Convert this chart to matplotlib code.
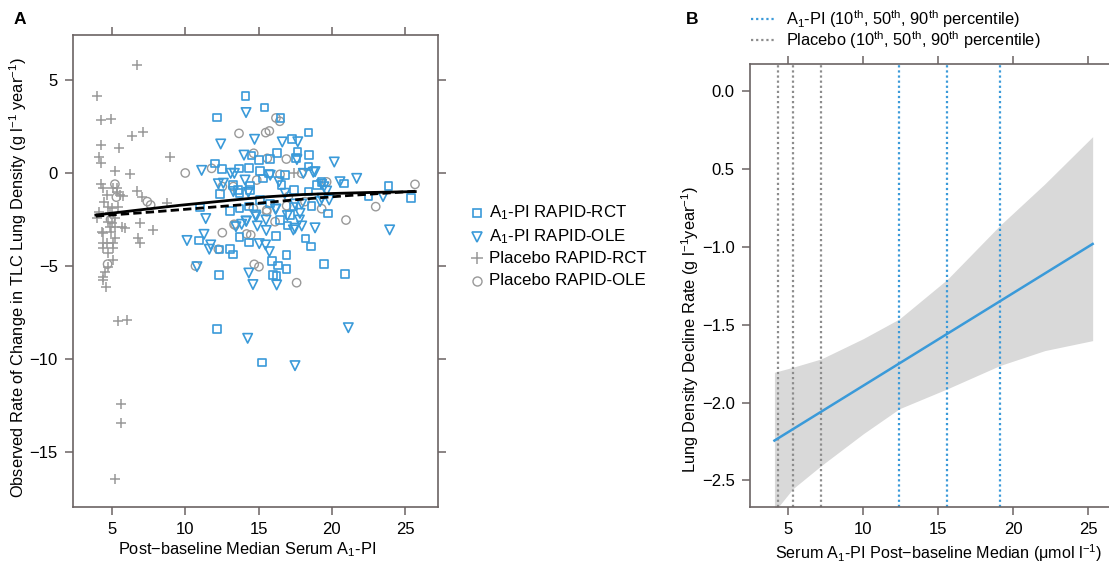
import matplotlib
matplotlib.use("Agg")
import matplotlib.pyplot as plt
from matplotlib.lines import Line2D
import numpy as np

plt.rcParams['font.family'] = ['Liberation Sans', 'DejaVu Sans']
plt.rcParams['mathtext.fontset'] = 'custom'
plt.rcParams['mathtext.rm'] = 'Liberation Sans'
plt.rcParams['mathtext.it'] = 'Liberation Sans:italic'
plt.rcParams['mathtext.bf'] = 'Liberation Sans:bold'

# ---------------- Panel A data ----------------
rct_a1pi_x = [14.10, 15.40, 12.17, 16.50, 18.40, 17.29, 17.65, 18.43, 16.25, 14.52, 15.02, 15.80, 12.02, 12.49,
              13.67, 14.37, 15.10, 15.70, 18.40, 17.56, 16.81, 19.31, 20.85, 23.86, 25.40, 22.50, 19.75, 18.63,
              17.42, 18.40, 13.62, 12.37, 11.01, 13.07, 13.69, 14.36, 16.47, 16.97, 16.18, 13.69, 14.37, 10.92,
              13.05, 13.28, 12.33, 16.91, 18.20, 18.58, 15.93, 16.35, 16.92, 19.47, 20.92, 12.32, 15.97, 16.22,
              13.28, 13.69, 14.42, 15.29, 16.58, 19.01, 12.15, 15.22, 14.42, 17.38, 15.10, 15.78, 17.15]
rct_a1pi_y = [4.14, 3.53, 2.99, 2.97, 2.17, 1.82, 1.13, 0.97, 1.06, 0.95, 0.70, 0.75, 0.52, 0.22,
              0.25, 0.26, 0.12, -0.02, 0.34, 0.82, -0.11, -0.50, -0.57, -0.70, -1.36, -1.27, -2.18, -1.79,
              -0.92, -1.00, -0.91, -1.12, -1.85, -2.06, -1.90, -1.81, -2.53, -2.83, -3.38, -3.44, -3.73, -3.63,
              -4.10, -4.39, -4.12, -4.41, -3.53, -3.96, -4.72, -4.98, -5.17, -4.90, -5.44, -5.48, -5.48, -5.55,
              -0.65, -1.09, -0.68, -0.29, -0.65, -0.65, -8.39, -10.20, -0.91, -1.81, -1.45, -1.63, -2.26]

ole_a1pi_x = [14.15, 12.42, 14.73, 16.62, 17.68, 20.17, 21.70, 11.12, 13.10, 14.01, 17.62, 18.86, 18.06, 18.74,
              19.31, 20.56, 23.50, 23.95, 12.26, 12.60, 11.40, 10.12, 11.28, 11.74, 11.64, 10.80, 14.34, 14.62,
              16.24, 13.35, 14.08, 15.80, 16.40, 16.81, 13.28, 14.31, 14.17, 14.80, 15.51, 15.53, 16.16, 17.49,
              17.95, 17.83, 17.38, 17.95, 18.86, 19.31, 19.82, 15.05, 15.48, 15.74, 13.85, 13.46, 14.15, 16.97,
              17.49, 17.79, 19.47, 19.65, 19.20, 14.26, 17.49, 21.13, 14.92, 14.83, 16.19]
ole_a1pi_y = [3.25, 1.56, 1.81, 1.67, 1.68, 0.59, -0.29, 0.14, -0.02, 0.96, 0.72, 0.07, -0.02, 0.04,
              -0.61, -0.47, -1.27, -3.06, -0.58, -0.55, -2.45, -3.63, -3.30, -3.87, -4.10, -5.04, -5.38, -6.00,
              -6.02, -0.02, -0.38, -0.12, -0.47, -1.09, -1.00, -1.04, -2.60, -2.26, -2.53, -3.09, -1.95, -1.67,
              -1.67, -2.17, -3.06, -2.85, -2.95, -1.36, -1.45, -3.80, -3.87, -4.23, -2.76, -2.89, -2.58, -2.29,
              -2.97, -2.53, -0.74, -0.97, -1.54, -8.89, -10.36, -8.32, -2.85, -2.35, -1.94]

rct_pbo_x = [6.71, 3.97, 4.25, 4.93, 6.40, 7.14, 4.25, 5.45, 4.10, 4.28, 8.96, 5.20, 6.23, 17.40, 4.25, 4.41,
             5.05, 5.36, 5.32, 5.55, 5.77, 4.64, 4.45, 4.75, 5.43, 6.69, 7.03, 3.95, 4.13, 4.86, 4.98, 4.86,
             5.20, 4.91, 5.66, 5.89, 6.91, 7.82, 6.80, 6.91, 4.37, 4.37, 4.68, 5.05, 4.41, 5.09, 4.75, 5.09,
             4.75, 4.52, 4.37, 4.37, 4.57, 5.40, 6.04, 5.63, 5.59, 5.20, 8.73, 4.98, 5.20, 4.75, 4.30, 5.20]
rct_pbo_y = [5.81, 4.16, 2.85, 2.93, 1.99, 2.18, 1.51, 1.37, 0.88, 0.55, 0.88, 0.12, -0.03, 0.00, -0.57, -0.79,
             -0.79, -0.82, -1.00, -1.18, -1.24, -1.18, -1.54, -1.81, -1.81, -0.98, -1.27, -2.44, -2.08, -2.17,
             -2.67, -2.89, -2.89, -3.15, -2.89, -2.97, -2.71, -3.06, -3.51, -3.78, -3.24, -3.75, -3.78, -3.75,
             -4.05, -4.05, -4.32, -4.68, -5.04, -5.30, -5.57, -5.75, -6.15, -7.95, -7.90, -12.40, -13.43, -16.44,
             -1.63, -1.90, -2.44, -2.62, -3.15, -3.48]

ole_pbo_x = [10.00, 7.41, 7.64, 5.20, 5.30, 4.90, 4.70, 13.67, 15.49, 15.74, 16.19, 16.45, 14.67, 15.60, 16.90,
             11.80, 16.47, 17.95, 12.53, 14.88, 13.28, 14.65, 15.56, 16.13, 13.40, 12.53, 14.19, 14.47, 12.26,
             10.70, 14.71, 15.03, 17.60, 19.31, 20.97, 23.00, 25.68, 19.65, 17.03, 18.17, 15.56, 16.92, 13.33]
ole_pbo_y = [0.00, -1.54, -1.72, -0.60, -1.30, -2.50, -4.90, 2.13, 2.17, 2.26, 2.96, 2.78, 1.06, 0.79, 0.75,
             0.25, -0.07, -0.02, -0.73, -0.38, -0.73, -1.90, -1.99, -2.62, -2.80, -3.21, -3.28, -3.33, -4.10,
             -5.00, -4.91, -5.04, -5.90, -1.92, -2.53, -1.81, -0.61, -0.48, -1.27, -1.54, -2.08, -1.76, -2.76]

fit_solid_x = [3.9, 6.5, 9.6, 11.0, 13.3, 15.6, 18.0, 20.1, 22.5, 25.7]
fit_solid_y = [-2.26, -2.02, -1.74, -1.63, -1.45, -1.28, -1.16, -1.10, -1.05, -1.00]
fit_dash_x = [3.9, 8.0, 11.0, 14.0, 17.8, 21.0, 25.7]
fit_dash_y = [-2.32, -2.08, -1.89, -1.70, -1.42, -1.22, -0.98]

legend_a_labels = [r'A$_1$-PI RAPID-RCT', r'A$_1$-PI RAPID-OLE', 'Placebo RAPID-RCT', 'Placebo RAPID-OLE']

# ---------------- Panel B data ----------------
line_b_x = [4.07, 25.29]
line_b_y = [-2.244, -0.983]
band_x = [4.07, 5.3, 7.2, 10.0, 12.4, 15.6, 19.1, 22.1, 25.29]
band_upper = [-1.806, -1.774, -1.72, -1.59, -1.464, -1.21, -0.865, -0.598, -0.295]
band_lower = [-2.70, -2.553, -2.404, -2.20, -2.04, -1.912, -1.763, -1.667, -1.603]
a1pi_pct = [12.36, 15.57, 19.09]
pbo_pct = [4.33, 5.29, 7.16]
b_yticks = [0.0, -0.5, -1.0, -1.5, -2.0, -2.5]
b_yticklabels = ['0.0', '0.5', '\u22121.0', '\u22121.5', '\u22122.0', '\u22122.5']

BLUE = '#3a9ad9'
GRAY = '#999999'
SPINE = '#6b6363'
FS = 11.8

fig = plt.figure(figsize=(11.09, 5.63), dpi=100)

# ---------- Panel A ----------
axA = fig.add_axes([73/1109, 56/563, 365/1109, 472/563])
axA.scatter(rct_pbo_x, rct_pbo_y, marker='+', s=55, c=GRAY, linewidths=1.1, zorder=2)
axA.scatter(ole_pbo_x, ole_pbo_y, marker='o', s=36, facecolors='none', edgecolors=GRAY, linewidths=1.0, zorder=2)
axA.scatter(rct_a1pi_x, rct_a1pi_y, marker='s', s=30, facecolors='none', edgecolors=BLUE, linewidths=1.2, zorder=3)
axA.scatter(ole_a1pi_x, ole_a1pi_y, marker='v', s=46, facecolors='none', edgecolors=BLUE, linewidths=1.2, zorder=3)
axA.plot(fit_solid_x, fit_solid_y, color='black', lw=2.0, zorder=4)
axA.plot(fit_dash_x, fit_dash_y, color='black', lw=2.0, ls=(0, (3, 1.5)), zorder=4)
axA.set_xlim(2.34, 27.25)
axA.set_ylim(-17.96, 7.42)
axA.set_xticks([5, 10, 15, 20, 25])
axA.set_yticks([5, 0, -5, -10, -15])
axA.tick_params(direction='out', length=6, width=1.1, color=SPINE, labelsize=12,
                top=True, right=True, labeltop=False, labelright=False, pad=5)
for s in axA.spines.values():
    s.set_color(SPINE)
    s.set_linewidth(1.2)
fig.text(247/1109, 1 - 550/563, r'Post$-$baseline Median Serum A$_1$-PI',
         ha='center', va='center', fontsize=FS)
fig.text(18/1109, 1 - 278/563, r'Observed Rate of Change in TLC Lung Density (g l$^{-1}$ year$^{-1}$)',
         rotation=90, ha='center', va='center', fontsize=FS)
fig.text(20/1109, 1 - 20/563, 'A', fontsize=12.5, fontweight='bold', ha='center', va='center')

# Legend A (manual)
leg_y = [1 - 213/563, 1 - 236.5/563, 1 - 258.5/563, 1 - 280.5/563]
mk = [dict(marker='s', ms=6, mfc='none', mec=BLUE, mew=1.2),
      dict(marker='v', ms=7, mfc='none', mec=BLUE, mew=1.2),
      dict(marker='+', ms=8, mec=GRAY, mew=1.1),
      dict(marker='o', ms=6.5, mfc='none', mec=GRAY, mew=1.0)]
for yy, lab, m in zip(leg_y, legend_a_labels, mk):
    fig.add_artist(Line2D([477/1109], [yy], transform=fig.transFigure, ls='none', **m))
    fig.text(489/1109, yy, lab, fontsize=12.2, va='center', ha='left')

# ---------- Panel B ----------
axB = fig.add_axes([750/1109, 56/563, 359/1109, 443/563])
axB.fill_between(band_x, band_lower, band_upper, color='#d9d9d9', lw=0, zorder=1)
for xv in pbo_pct:
    axB.axvline(xv, color='#8c8c8c', ls=(0, (1, 1.3)), lw=1.6, zorder=2)
for xv in a1pi_pct:
    axB.axvline(xv, color=BLUE, ls=(0, (1, 1.3)), lw=1.6, zorder=2)
axB.plot(line_b_x, line_b_y, color=BLUE, lw=1.8, zorder=3)
axB.set_xlim(2.44, 26.38)
axB.set_ylim(-2.67, 0.171)
axB.set_xticks([5, 10, 15, 20, 25])
axB.set_yticks(b_yticks)
axB.set_yticklabels(b_yticklabels)
axB.tick_params(direction='out', length=6, width=1.1, color=SPINE, labelsize=12,
                top=True, labeltop=False, right=False, pad=5)
axB.spines['right'].set_visible(False)
for k in ['left', 'top', 'bottom']:
    axB.spines[k].set_color(SPINE)
    axB.spines[k].set_linewidth(1.2)
fig.text(1102/1109, 1 - 553/563, 'Serum A$_1$-PI Post$-$baseline Median (\u03bcmol l$^{-1}$)',
         ha='right', va='center', fontsize=11.6)
fig.text(690/1109, 1 - 330/563, r'Lung Density Decline Rate (g l$^{-1}$year$^{-1}$)',
         rotation=90, ha='center', va='center', fontsize=FS)
fig.text(692/1109, 1 - 20/563, 'B', fontsize=12.5, fontweight='bold', ha='center', va='center')

# Legend B (manual)
legb = [(BLUE, r'A$_1$-PI (10$^{\rm th}$, 50$^{\rm th}$, 90$^{\rm th}$ percentile)', 1 - 19/563),
        ('#8c8c8c', r'Placebo (10$^{\rm th}$, 50$^{\rm th}$, 90$^{\rm th}$ percentile)', 1 - 40/563)]
for col, lab, yy in legb:
    fig.add_artist(Line2D([751/1109, 776/1109], [yy, yy], transform=fig.transFigure,
                          color=col, ls=(0, (1, 1.3)), lw=1.6))
    fig.text(786/1109, yy, lab, fontsize=FS, va='center', ha='left')

fig.savefig('out.png', dpi=100)
